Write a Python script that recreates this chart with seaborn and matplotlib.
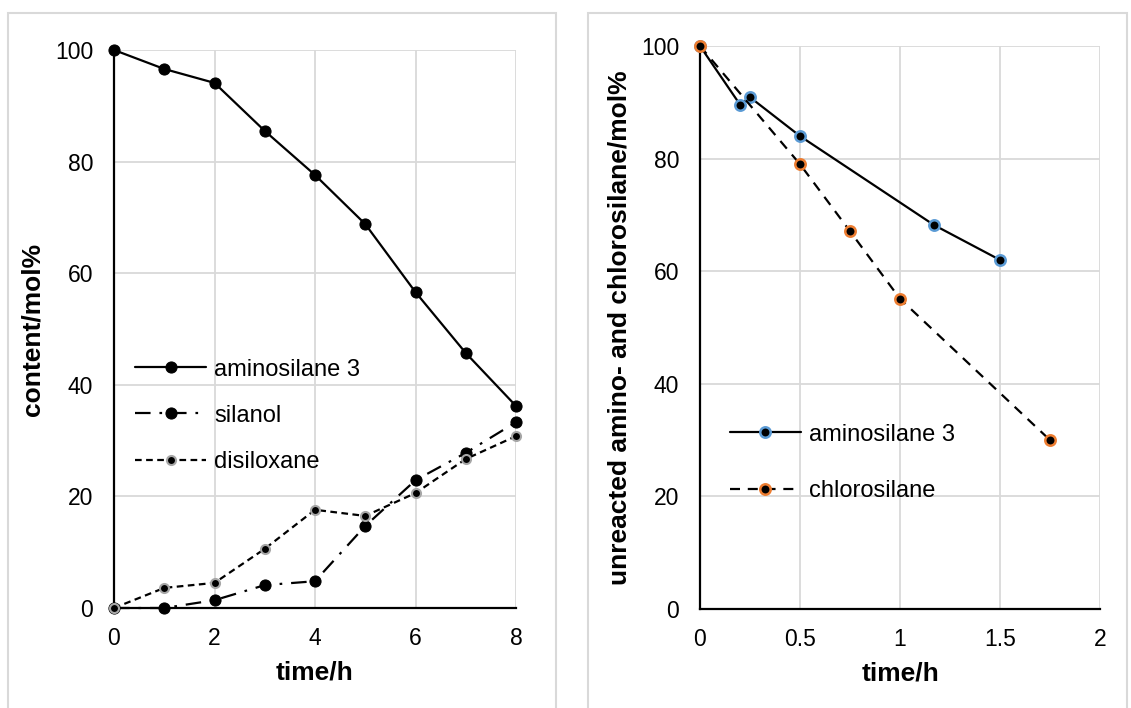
import matplotlib
matplotlib.use("Agg")
import matplotlib.pyplot as plt
import seaborn as sns
import pandas as pd
from matplotlib.patches import Rectangle

# ---- data (left panel) ----
time_left = [0, 1, 2, 3, 4, 5, 6, 7, 8]
aminosilane_left = [100, 96.6, 94.1, 85.5, 77.6, 68.8, 56.6, 45.7, 36.2]
silanol = [0, 0, 1.4, 4.1, 4.8, 14.7, 22.9, 27.8, 33.3]
disiloxane = [0, 3.6, 4.5, 10.6, 17.6, 16.5, 20.6, 26.7, 30.8]

# ---- data (right panel) ----
time_amino_right = [0, 0.2, 0.25, 0.5, 1.17, 1.5]
aminosilane_right = [100, 89.6, 90.9, 84.0, 68.2, 62.0]
time_chloro = [0, 0.5, 0.75, 1.0, 1.75]
chlorosilane = [100, 79.0, 67.1, 55.1, 30.0]

left_xticks = [0, 2, 4, 6, 8]
right_xticks = [0, 0.5, 1, 1.5, 2]
right_xticklabels = ["0", "0.5", "1", "1.5", "2"]
yticks = [0, 20, 40, 60, 80, 100]

sns.set_theme(style="white")
plt.rcParams["font.family"] = ["Liberation Sans", "DejaVu Sans"]
plt.rcParams["text.color"] = "black"
plt.rcParams["axes.labelcolor"] = "black"

fig = plt.figure(figsize=(11.31, 7.08), dpi=100)

# panel borders
for (x0, x1) in [(8, 556), (588, 1127)]:
    fig.patches.append(Rectangle((x0 / 1131, -0.01), (x1 - x0) / 1131, (708 - 13) / 708 + 0.01,
                                 transform=fig.transFigure, fill=False,
                                 edgecolor="#D9D9D9", linewidth=1.5))

grid_c = "#D9D9D9"
LW = 1.6

def style_axes(ax):
    for s in ["top", "right"]:
        ax.spines[s].set_visible(False)
    for s in ["left", "bottom"]:
        ax.spines[s].set_color("black")
        ax.spines[s].set_linewidth(1.6)
        ax.spines[s].set_zorder(1)
    ax.grid(True, color=grid_c, linewidth=1.3)
    ax.set_axisbelow(True)
    ax.tick_params(axis="both", length=0, labelsize=16.5, colors="black")
    ax.tick_params(axis="y", pad=15)
    ax.tick_params(axis="x", pad=14)

# ---- left panel ----
ax1 = fig.add_axes([114 / 1131, (708 - 608) / 708, 402 / 1131, 558 / 708])
dfl = pd.DataFrame({"t": time_left, "amino": aminosilane_left,
                    "silanol": silanol, "disiloxane": disiloxane})
sns.lineplot(data=dfl, x="t", y="amino", ax=ax1, color="black", linewidth=LW,
             marker="o", markersize=8, markerfacecolor="black", markeredgecolor="black",
             label="aminosilane 3", zorder=5)
sns.lineplot(data=dfl, x="t", y="silanol", ax=ax1, color="black", linewidth=LW,
             linestyle=(0, (7, 4, 1.2, 4)),
             marker="o", markersize=8, markerfacecolor="black", markeredgecolor="black",
             label="silanol", zorder=4)
sns.lineplot(data=dfl, x="t", y="disiloxane", ax=ax1, color="black", linewidth=LW,
             linestyle=(0, (3, 2)),
             marker="o", markersize=6.5, markerfacecolor="black", markeredgecolor="#A6A6A6",
             markeredgewidth=1.5, label="disiloxane", zorder=4)
ax1.set_xlim(0, 8)
ax1.set_ylim(0, 100)
ax1.set_xticks(left_xticks)
ax1.set_yticks(yticks)
style_axes(ax1)
ax1.set_xlabel("time/h", fontsize=19, fontweight="bold", labelpad=7)
ax1.set_ylabel("content/mol%", fontsize=19, fontweight="bold", labelpad=7.5)
ax1.legend(loc="upper left", bbox_to_anchor=(0.0, 0.485), frameon=False, fontsize=17,
           handlelength=3.0, labelspacing=1.02, handletextpad=0.35, borderaxespad=0.5)
for ln in ax1.get_lines():
    ln.set_clip_on(False)

# ---- right panel ----
ax2 = fig.add_axes([700 / 1131, (708 - 609) / 708, 400 / 1131, 563 / 708])
dfa = pd.DataFrame({"t": time_amino_right, "v": aminosilane_right})
dfc = pd.DataFrame({"t": time_chloro, "v": chlorosilane})
sns.lineplot(data=dfa, x="t", y="v", ax=ax2, color="black", linewidth=LW,
             marker="o", markersize=7.5, markerfacecolor="black", markeredgecolor="#5B9BD5",
             markeredgewidth=1.8, label="aminosilane 3", zorder=5)
sns.lineplot(data=dfc, x="t", y="v", ax=ax2, color="black", linewidth=LW,
             linestyle=(0, (4.5, 3.5)),
             marker="o", markersize=7.5, markerfacecolor="black", markeredgecolor="#ED7D31",
             markeredgewidth=1.8, label="chlorosilane", zorder=5)
ax2.set_xlim(0, 2)
ax2.set_ylim(0, 100)
ax2.set_xticks(right_xticks)
ax2.set_xticklabels(right_xticklabels)
ax2.set_yticks(yticks)
style_axes(ax2)
ax2.set_xlabel("time/h", fontsize=19, fontweight="bold", labelpad=7)
ax2.set_ylabel("unreacted amino- and chlorosilane/mol%", fontsize=19, fontweight="bold", labelpad=7)
ax2.legend(loc="upper left", bbox_to_anchor=(0.022, 0.367), frameon=False, fontsize=17,
           handlelength=3.0, labelspacing=1.45, handletextpad=0.35, borderaxespad=0.5)
for ln in ax2.get_lines():
    ln.set_clip_on(False)

fig.savefig("out.png", dpi=100)
